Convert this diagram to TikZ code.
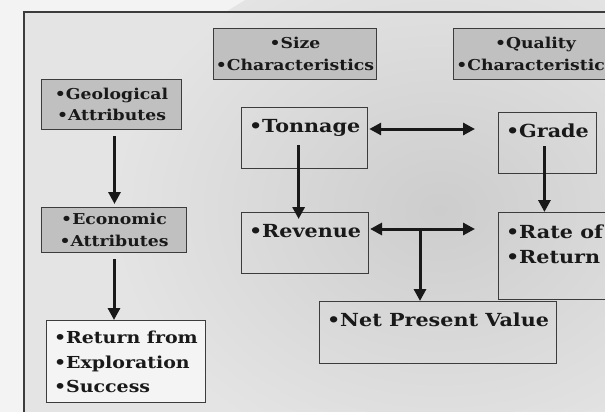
\documentclass[tikz,border=0pt]{standalone}
\usepackage{fontspec}
\setmainfont[FakeStretch=1.15]{DejaVu Serif}
\usetikzlibrary{arrows.meta}

\definecolor{paper}{RGB}{243,243,243}
\definecolor{panel}{RGB}{228,228,228}
\definecolor{haze}{RGB}{205,205,205}
\definecolor{catgray}{RGB}{192,192,192}
\definecolor{retfill}{RGB}{244,244,244}
\definecolor{boxline}{RGB}{60,60,60}
\definecolor{ink}{RGB}{25,25,25}

\newcommand\bigtxt{\bfseries\fontsize{18}{25}\selectfont}
\newcommand\smalltxt{\bfseries\fontsize{15}{21.5}\selectfont}

\begin{document}
\begin{tikzpicture}[
        x=1pt, y=-1pt,
        catbox/.style={draw=boxline, fill=catgray, line width=1pt, align=center,
            font=\smalltxt, inner sep=0pt, anchor=north west, text=ink},
        valbox/.style={draw=boxline, line width=1pt, align=left, font=\bigtxt,
            anchor=north west, inner xsep=7.5pt, inner ysep=0pt,
            text height=25pt, text depth=36pt, text=ink},
        arrow/.style={-{Triangle[length=12pt, width=12pt]}, line width=3pt, draw=ink}
    ]

    \tikzset{
    twoway/.style={{Triangle[length=12pt, width=12pt]}-{Triangle[length=12pt, width=12pt]},
        line width=3pt, draw=ink}
}

    \clip (0,0) rectangle (605,412);
    \fill[paper] (0,0) rectangle (605,412);
    \fill[panel] (24,12) rectangle (620,425);
    \shade[inner color=haze, outer color=panel] (440,210) ellipse (330 and 260);
    \draw[line width=2.5pt, draw=ink!85] (24,425) -- (24,12) -- (620,12);

    \node[catbox, minimum width=163pt, minimum height=51pt] (size) at (213,28)
        {\textbullet Size\\\textbullet Characteristics};
    \node[catbox, minimum width=164pt, minimum height=51pt] (quality) at (453,28)
        {\textbullet Quality\\\textbullet Characteristics};
    \node[catbox, minimum width=140pt, minimum height=50pt] (geo) at (41,79)
        {\textbullet Geological\\\textbullet Attributes};
    \node[catbox, minimum width=145pt, minimum height=45pt] (econ) at (41,207)
        {\textbullet Economic\\\textbullet Attributes};

    \node[valbox] (ton) at (241,107) {\textbullet Tonnage};
    \node[valbox] (grade) at (498,112) {\textbullet Grade};
    \node[valbox] (rev) at (241,212) {\textbullet Revenue};
    \node[valbox, text height=51pt, text depth=36pt] (rate) at (498,212)
        {\textbullet Rate of\\\textbullet Return};
    \node[valbox, text depth=37pt] (npv) at (319,301) {\textbullet Net Present Value};
    \node[valbox, fill=retfill, text height=72pt, text depth=10pt,
        font=\bfseries\fontsize{16.5}{24.5}\selectfont] (ret) at (46,320)
        {\textbullet Return from\\\textbullet Exploration\\\textbullet Success};

    \coordinate (tonend) at (475,129);
    \coordinate (revend) at (475,229);
    \coordinate (revfork) at (420,229);

    \draw[arrow, shorten <=6pt, shorten >=3pt] ([xshift=3pt]geo.south) -- ([xshift=3pt]geo.south |- econ.north);
    \draw[arrow, shorten <=6pt] (econ.south) -- (econ.south |- ret.north);
    \draw[arrow] ([shift={(-6,7)}]ton.center) -- ([shift={(-6,7)}]ton.center |- rev.north);
    \draw[arrow] ([shift={(-3,3)}]grade.center) -- ([xshift=-3pt]grade.center |- rate.north);

    \draw[twoway, shorten <=1pt] (ton.east |- tonend) -- (tonend);
    \draw[twoway, shorten <=1pt] (rev.east |- revend) -- (revend);
    \draw[arrow] (revfork) -- (revfork |- npv.north);
\end{tikzpicture}
\end{document}
